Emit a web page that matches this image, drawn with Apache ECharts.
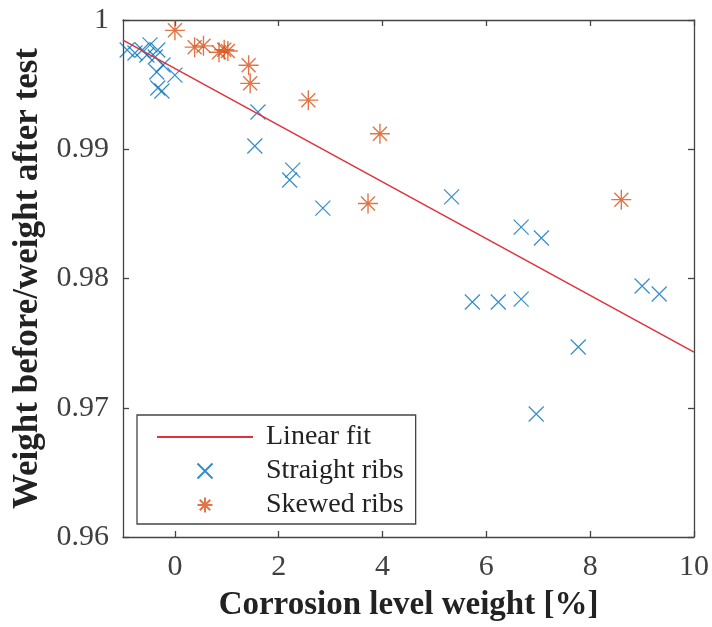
<!DOCTYPE html>
<html><head><meta charset="utf-8">
<script src="https://cdn.jsdelivr.net/npm/echarts@6/dist/echarts.min.js"></script>
<style>html,body{margin:0;padding:0;background:#fff}#c{width:712px;height:627px}</style>
</head><body><div id="c"></div>
<script>
// Straight ribs: [corrosion %, weight ratio]
const straightX = [-0.92,-0.77,-0.63,-0.48,-0.54,-0.38,-0.33,-0.23,-0.35,-0.33,-0.25,0.0,1.6,1.54,2.27,2.21,2.85,5.33,6.67,7.06,5.73,6.23,6.67,7.77,6.96,9.0,9.33];
const straightY = [0.99768,0.99745,0.99768,0.99807,0.99729,0.99714,0.99768,0.99652,0.99598,0.99474,0.99451,0.99574,0.99288,0.99025,0.98839,0.98762,0.98545,0.98631,0.98398,0.98313,0.97818,0.97818,0.97841,0.97470,0.96952,0.97942,0.97880];
// Skewed ribs
const skewedX = [0.0,0.38,0.55,0.85,0.95,1.02,1.42,1.45,2.57,3.72,3.95,8.6];
const skewedY = [0.9992,0.9979,0.9980,0.9975,0.9977,0.9976,0.9965,0.9951,0.9938,0.9858,0.9912,0.9861];
// Linear fit endpoints
const fitX = [-1, 10];
const fitY = [0.99845, 0.97431];
const xTicks = [0,2,4,6,8,10];
const yTicks = [0.96,0.97,0.98,0.99,1];

const FONT = 'Liberation Serif';
const AX = '#444';
const zip = (a,b)=>a.map((v,i)=>[v,b[i]]);
const line = {show:true,onZero:false,lineStyle:{color:AX,width:1.3}};
const tick = (vals)=>({show:true,inside:true,length:6,lineStyle:{color:AX,width:1.3},customValues:vals});
const chart = echarts.init(document.getElementById('c'));
chart.setOption({
  animation:false,
  backgroundColor:'#fff',
  grid:{left:123,right:17,top:20,bottom:90,containLabel:false},
  xAxis:[
    {type:'value',min:-1,max:10,position:'bottom',
      name:'Corrosion level weight [%]',nameLocation:'middle',nameGap:52,
      nameTextStyle:{fontFamily:FONT,fontSize:33,fontWeight:'bold',color:'#222'},
      axisLine:line,axisTick:tick(xTicks),splitLine:{show:false},
      axisLabel:{fontFamily:FONT,fontSize:30,color:'#404040',margin:15,customValues:xTicks,formatter:v=>String(v)}},
    {type:'value',min:-1,max:10,position:'top',
      axisLine:line,axisTick:tick(xTicks),splitLine:{show:false},axisLabel:{show:false}}
  ],
  yAxis:[
    {type:'value',min:0.96,max:1,position:'left',
      name:'Weight before/weight after test',nameLocation:'middle',nameGap:70,
      nameTextStyle:{fontFamily:FONT,fontSize:35,fontWeight:'bold',color:'#222'},
      axisLine:line,axisTick:tick(yTicks),splitLine:{show:false},
      axisLabel:{fontFamily:FONT,fontSize:30,color:'#404040',margin:14,customValues:yTicks,
        formatter:v=>Math.abs(v-1)<1e-9?'1':v.toFixed(2)}},
    {type:'value',min:0.96,max:1,position:'right',
      axisLine:line,axisTick:tick(yTicks),splitLine:{show:false},axisLabel:{show:false}}
  ],
  legend:{
    orient:'vertical',left:137,top:415,
    padding:[8,12,5,19],itemGap:6,itemWidth:96,itemHeight:15,
    backgroundColor:'#fff',borderColor:AX,borderWidth:1.3,borderRadius:0,
    textStyle:{fontFamily:FONT,fontSize:28,color:'#222',padding:[0,0,0,8]},
    data:[{name:'Linear fit',itemStyle:{opacity:0}},'Straight ribs','Skewed ribs']
  },
  series:[
    {name:'Linear fit',type:'line',data:zip(fitX,fitY),symbol:'none',showSymbol:false,
      lineStyle:{color:'#e0323c',width:1.5},itemStyle:{color:'#e0323c'},z:3},
    {name:'Straight ribs',type:'scatter',data:zip(straightX,straightY),
      symbol:'path://M0,0L10,10M10,0L0,10',symbolSize:15,symbolKeepAspect:true,
      itemStyle:{color:'transparent',borderColor:'#0072BD',borderWidth:1.2},z:2},
    {name:'Skewed ribs',type:'scatter',data:zip(skewedX,skewedY),
      symbol:'path://M5,0L5,10M0,5L10,5M1.5,1.5L8.5,8.5M8.5,1.5L1.5,8.5',symbolSize:20,symbolKeepAspect:true,
      itemStyle:{color:'transparent',borderColor:'#D95319',borderWidth:1.4},z:2}
  ]
});
</script></body></html>
